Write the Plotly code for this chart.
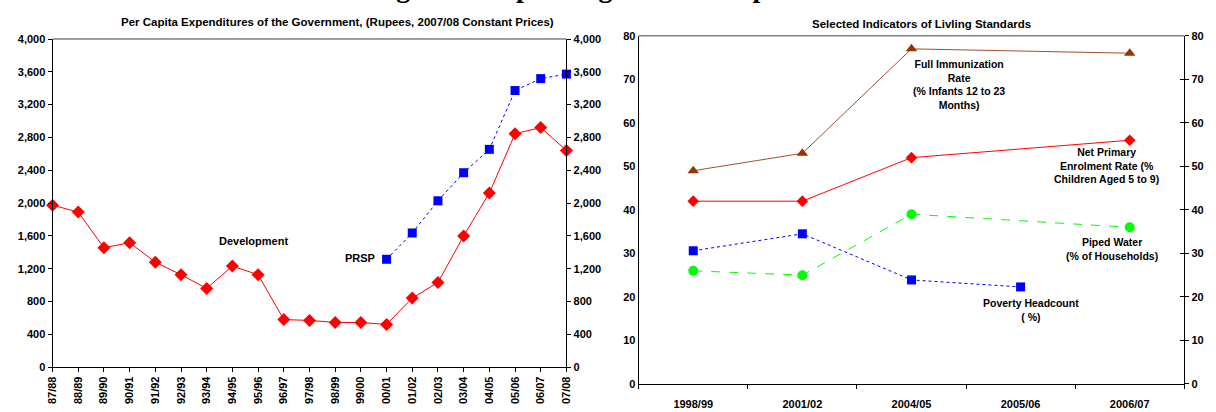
import plotly.graph_objects as go

W, H = 1216, 412

# ---- Left panel: per capita government expenditures (Rs, 2007/08 prices)
fiscal_years = ["87/88", "88/89", "89/90", "90/91", "91/92", "92/93", "93/94",
                "94/95", "95/96", "96/97", "97/98", "98/99", "99/00", "00/01",
                "01/02", "02/03", "03/04", "04/05", "05/06", "06/07", "07/08"]
development = [1975, 1890, 1455, 1518, 1280, 1127, 960, 1232, 1127, 580, 570,
               545, 545, 520, 842, 1032, 1600, 2122, 2845, 2920, 2642]
prsp_years = ["00/01", "01/02", "02/03", "03/04", "04/05", "05/06", "06/07", "07/08"]
prsp = [1315, 1636, 2028, 2370, 2655, 3372, 3517, 3572]

# ---- Right panel: living standards indicators
survey_years = ["1998/99", "2001/02", "2004/05", "2005/06", "2006/07"]
immunization = [49, 53, 77, None, 76]
enrolment = [42, 42, 52, None, 56]
piped_water = [26, 25, 39, None, 36]
poverty = [30.6, 34.5, 23.9, 22.3, None]

FONT = "Liberation Sans, Arial, sans-serif"


def fx(px):
    return px / W


def fy(py):
    return 1 - py / H


# plot-area frames in pixels (left, top, right, bottom)
L = (47, 34, 566, 372)
R = (639, 30.7, 1190, 389.3)

fig = go.Figure()

fig.add_trace(go.Scatter(
    x=fiscal_years, y=development, mode="lines+markers", name="Development",
    line=dict(color="#FF0000", width=1),
    marker=dict(symbol="diamond", size=10, color="#FF0000"),
    cliponaxis=False, xaxis="x", yaxis="y"))
fig.add_trace(go.Scatter(
    x=prsp_years, y=prsp, mode="lines+markers", name="PRSP",
    line=dict(color="#0000FF", width=1, dash="dot"),
    marker=dict(symbol="square", size=9, color="#0000FF"),
    cliponaxis=False, xaxis="x", yaxis="y2"))

fig.add_trace(go.Scatter(
    x=survey_years, y=immunization, mode="lines+markers", connectgaps=True,
    line=dict(color="#A0522D", width=1),
    marker=dict(symbol="triangle-up", size=10, color="#993300"),
    cliponaxis=False, xaxis="x2", yaxis="y3"))
fig.add_trace(go.Scatter(
    x=survey_years, y=enrolment, mode="lines+markers", connectgaps=True,
    line=dict(color="#FF0000", width=1),
    marker=dict(symbol="diamond", size=9, color="#FF0000"),
    cliponaxis=False, xaxis="x2", yaxis="y3"))
fig.add_trace(go.Scatter(
    x=survey_years, y=piped_water, mode="lines+markers", connectgaps=True,
    line=dict(color="#00FF00", width=1, dash="dash"),
    marker=dict(symbol="circle", size=10, color="#00FF00"),
    cliponaxis=False, xaxis="x2", yaxis="y4"))
fig.add_trace(go.Scatter(
    x=survey_years, y=poverty, mode="lines+markers",
    line=dict(color="#0000FF", width=1, dash="dot"),
    marker=dict(symbol="square", size=9, color="#0000FF"),
    cliponaxis=False, xaxis="x2", yaxis="y5"))

tick_font = dict(family=FONT, size=11, color="#000000", weight="bold")
axis_common = dict(showgrid=False, zeroline=False, showline=True,
                   linecolor="#000000", linewidth=1, tickcolor="#000000",
                   tickfont=tick_font, fixedrange=True)

fig.update_layout(
    width=W, height=H, margin=dict(l=0, r=0, t=0, b=0),
    paper_bgcolor="white", plot_bgcolor="white", showlegend=False,
    xaxis=dict(domain=[fx(L[0]), fx(L[2])], anchor="y", type="category",
               categoryorder="array", categoryarray=fiscal_years,
               range=[0, len(fiscal_years) - 1], ticks="outside", ticklen=4,
               tickangle=-90, **axis_common),
    yaxis=dict(domain=[fy(L[3]), fy(L[1])], anchor="x", range=[0, 4000],
               dtick=400, tickformat=",d", ticks="outside", ticklen=4,
               **axis_common),
    yaxis2=dict(overlaying="y", side="right", anchor="x", range=[0, 4000],
                dtick=400, tickformat=",d", ticks="outside", ticklen=4,
                **axis_common),
    xaxis2=dict(domain=[fx(R[0]), fx(R[2])], anchor="y3", type="category",
                categoryorder="array", categoryarray=survey_years,
                range=[-0.5, len(survey_years) - 0.5], tickson="boundaries",
                ticks="outside", ticklen=4, ticklabelstandoff=10, **axis_common),
    yaxis3=dict(domain=[fy(R[3]), fy(R[1])], anchor="x2", range=[0, 80],
                dtick=10, ticks="", **axis_common),
    yaxis4=dict(overlaying="y3", side="right", anchor="x2", range=[0, 80],
                dtick=10, ticks="outside", ticklen=4, **axis_common),
    yaxis5=dict(overlaying="y3", side="right", anchor="x2", range=[0, 80],
                dtick=10, ticks="inside", ticklen=4, showticklabels=False,
                **axis_common),
)

# grey top edges of both plot frames
for box in (L, R):
    fig.add_shape(type="line", xref="paper", yref="paper",
                  x0=fx(box[0]), x1=fx(box[2]), y0=fy(box[1]), y1=fy(box[1]),
                  line=dict(color="#808080", width=1.5))

ann_font = dict(family=FONT, size=11, color="#000000", weight="bold")


def note(text, px, py, xanchor="center", size=11):
    f = dict(ann_font)
    f["size"] = size
    fig.add_annotation(text=text, xref="paper", yref="paper", x=fx(px), y=fy(py),
                       xanchor=xanchor, yanchor="middle", showarrow=False,
                       font=f, align="center")


# headline running off the top of the page: anchored at the page top,
# then lifted so that only its descenders remain inside
fig.add_annotation(text="<b>Rising Public Spending and Development Outcomes</b>",
                   xref="paper", yref="paper", x=fx(645), y=1, xanchor="center",
                   yanchor="top", yshift=36, showarrow=False,
                   font=dict(family="Liberation Serif, Times New Roman, serif",
                             size=28, color="#000000"))

note("Per Capita Expenditures of the Government, (Rupees, 2007/08 Constant Prices)",
     335, 16, size=11.5)
note("Selected Indicators of Livling Standards", 925, 19, size=11.5)

note("Development", 250, 242)
note("PRSP", 375, 260, xanchor="right")

note("Full Immunization<br>Rate<br>(% Infants 12 to 23<br>Months)", 963, 81, size=10.5)
note("Net Primary<br>Enrolment Rate (%<br>Children Aged 5 to 9)", 1111, 164, size=10.5)
note("Piped Water<br>(% of Households)", 1117, 250, size=10.5)
note("Poverty Headcount<br>( %)", 1035, 313, size=10.5)

fig.write_html("out.html")
